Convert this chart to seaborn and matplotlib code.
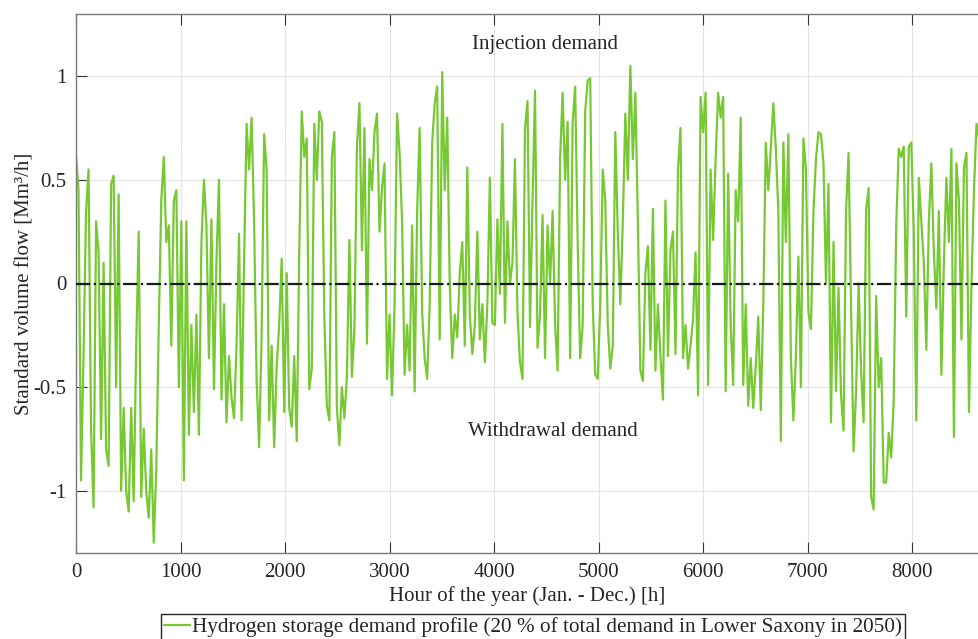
import matplotlib
matplotlib.use("Agg")
import matplotlib.pyplot as plt
import seaborn as sns
import pandas as pd
import numpy as np

# Daily readings of the hourly profile (Mm³/h)
demand = [
    0.62, 0.45, -0.95, -0.35, 0.35, 0.55, -0.7, -1.08, 0.3, 0.15,
    -0.75, 0.1, -0.8, -0.88, 0.48, 0.52, -0.5, 0.43, -1.0, -0.6,
    -1.0, -1.1, -0.6, -1.05, -0.3, 0.25, -1.03, -0.7, -1.0, -1.13,
    -0.8, -1.25, -0.9, -0.2, 0.4, 0.61, 0.2, 0.28, -0.3, 0.4,
    0.45, -0.5, 0.3, -0.95, 0.3, -0.73, -0.2, -0.62, -0.15, -0.73,
    0.2, 0.5, 0.28, -0.36, 0.31, -0.51, 0.11, 0.5, -0.56, -0.1,
    -0.67, -0.35, -0.55, -0.65, -0.3, 0.24, -0.66, 0.1, 0.77, 0.55,
    0.8, 0.3, -0.46, -0.79, -0.25, 0.72, 0.55, -0.66, -0.3, -0.79,
    -0.4, -0.2, 0.12, -0.62, 0.05, -0.6, -0.69, -0.35, -0.76, 0.15,
    0.83, 0.61, 0.7, -0.51, -0.41, 0.77, 0.5, 0.83, 0.78, -0.16,
    -0.59, -0.66, 0.61, 0.73, -0.6, -0.78, -0.5, -0.65, -0.45, 0.21,
    -0.45, -0.22, 0.66, 0.87, 0.16, 0.75, -0.29, 0.6, 0.45, 0.73,
    0.82, 0.25, 0.46, 0.58, -0.46, -0.15, -0.54, -0.1, 0.82, 0.63,
    0.3, -0.44, -0.2, -0.42, 0.28, -0.52, 0.35, 0.75, -0.14, -0.36,
    -0.46, -0.1, 0.68, 0.87, 0.95, -0.27, 1.02, 0.45, 0.8, 0.0,
    -0.36, -0.15, -0.26, 0.05, 0.2, -0.3, 0.56, -0.15, -0.34, -0.2,
    0.25, -0.27, -0.1, -0.38, -0.1, 0.51, -0.19, -0.2, 0.31, -0.05,
    0.77, -0.19, 0.3, 0.0, 0.1, 0.6, -0.14, -0.38, -0.46, 0.75,
    0.88, -0.21, 0.4, 0.93, -0.31, -0.15, 0.33, -0.36, 0.28, 0.0,
    0.35, -0.2, -0.42, 0.6, 0.92, 0.5, 0.78, -0.36, 0.78, 0.95,
    0.2, -0.36, -0.2, 0.83, 0.98, 0.99, -0.1, -0.44, -0.46, -0.1,
    0.55, 0.4, -0.2, -0.41, -0.3, 0.73, 0.25, -0.1, 0.3, 0.82,
    0.5, 1.05, 0.6, 0.92, 0.3, -0.42, -0.47, 0.05, 0.18, -0.32,
    0.36, -0.42, -0.1, -0.35, -0.56, 0.4, -0.35, 0.16, 0.25, -0.34,
    0.55, 0.75, -0.36, -0.2, -0.41, -0.3, -0.17, 0.15, -0.54, 0.9,
    0.73, 0.92, -0.49, 0.55, 0.21, 0.6, 0.92, 0.8, 0.9, -0.52,
    0.53, -0.2, -0.49, 0.45, 0.3, 0.8, -0.49, -0.1, -0.59, -0.36,
    -0.6, -0.4, -0.16, -0.61, -0.1, 0.68, 0.45, 0.65, 0.87, 0.65,
    0.35, -0.76, 0.68, 0.2, 0.72, -0.36, -0.66, -0.35, 0.13, -0.5,
    0.7, 0.55, -0.14, -0.22, 0.35, 0.6, 0.73, 0.72, 0.58, 0.0,
    0.48, -0.67, 0.2, -0.52, -0.02, -0.54, -0.71, 0.35, 0.63, -0.12,
    -0.81, -0.52, 0.0, -0.42, -0.67, 0.36, 0.46, -1.03, -1.09, -0.06,
    -0.5, -0.36, -0.96, -0.96, -0.72, -0.84, -0.56, 0.28, 0.65, 0.61,
    0.66, -0.16, 0.66, 0.68, 0.25, -0.66, 0.51, 0.3, 0.1, -0.32,
    0.3, 0.58, 0.15, -0.12, 0.35, -0.44, 0.1, 0.51, 0.2, 0.65,
    -0.74, 0.58, 0.4, -0.27, 0.56, 0.63, -0.62, 0.0, 0.45, 0.77,
    0.7,
]
hours = np.arange(len(demand)) * 24

x_ticks = [0, 1000, 2000, 3000, 4000, 5000, 6000, 7000, 8000]
y_ticks = [-1, -0.5, 0, 0.5, 1]
y_tick_labels = ["-1", "-0.5", "0", "0.5", "1"]

df = pd.DataFrame({"hour": hours, "flow": demand})

sns.set_theme(style="whitegrid")
plt.rcParams["font.family"] = ["Liberation Serif", "DejaVu Serif"]
plt.rcParams["axes.unicode_minus"] = False

fig = plt.figure(figsize=(9.79, 6.39), dpi=100)
ax = fig.add_axes([76 / 979, 1 - 553 / 639, (979 - 76) / 979, (553 - 14) / 639])

sns.lineplot(data=df, x="hour", y="flow", ax=ax, color="#76C932", linewidth=1.6,
             label="Hydrogen storage demand profile (20 % of total demand in Lower Saxony in 2050)",
             legend=False)
ax.axhline(0, color="#1a1a1a", linestyle="-.", linewidth=1.6, zorder=3)

ax.set_xlim(0, 8640)
ax.set_ylim(-1.3, 1.3)
ax.set_xticks(x_ticks)
ax.set_yticks(y_ticks)
ax.set_yticklabels(y_tick_labels)
ax.tick_params(direction="in", length=8, width=0.8, color="#333333",
               left=True, bottom=True, top=True, right=False,
               labelsize=15, labelcolor="#262626", pad=7)
ax.grid(True, color="#e3e3e3", linewidth=0.8)
for side in ["left", "bottom", "top", "right"]:
    ax.spines[side].set_color("#7a7a7a")
    ax.spines[side].set_linewidth(1.0)

ax.set_xlabel("Hour of the year (Jan. - Dec.) [h]", fontsize=15, color="#262626", labelpad=3)
ax.set_ylabel("Standard volume flow [Mm³/h]", fontsize=15, color="#262626", labelpad=-1)

ax.text(4490, 1.155, "Injection demand", ha="center", va="center", fontsize=15, color="#262626")
ax.text(4560, -0.715, "Withdrawal demand", ha="center", va="center", fontsize=15, color="#262626")

handles, labels = ax.get_legend_handles_labels()
leg = fig.legend(handles, labels, loc="upper center", bbox_to_anchor=(533 / 979, 1 - 614 / 639),
                 fontsize=15.3, frameon=True, fancybox=False, framealpha=1,
                 edgecolor="#262626", handlelength=1.2, handletextpad=0.1,
                 borderpad=0.15, borderaxespad=0)
leg.get_frame().set_linewidth(1.0)

fig.savefig("out.png", dpi=100)
